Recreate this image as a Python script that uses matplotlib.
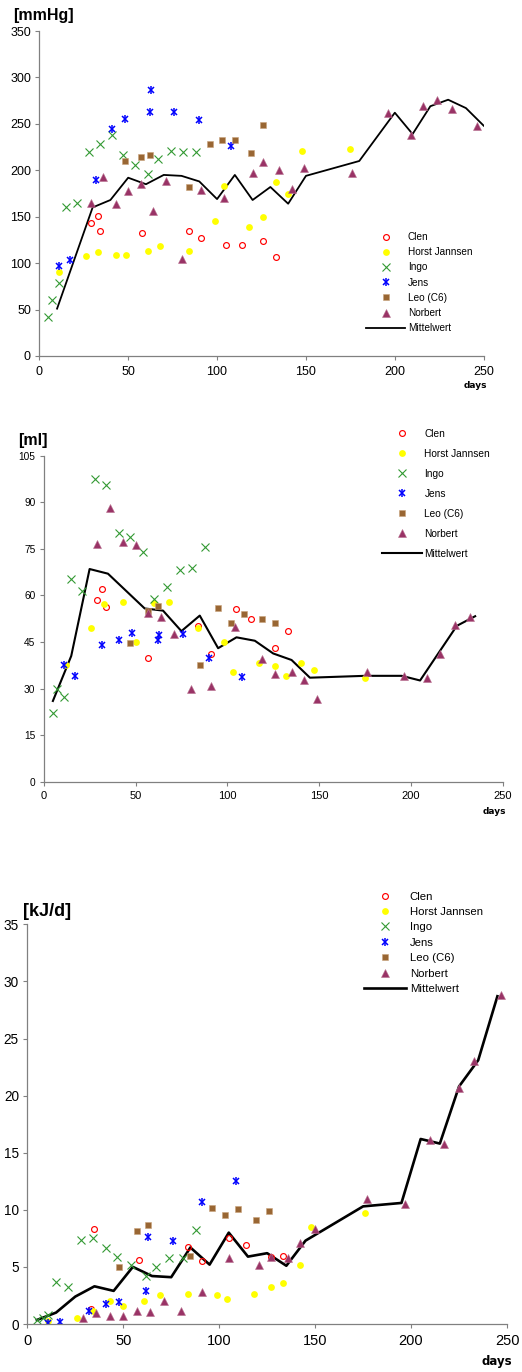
import matplotlib
matplotlib.use('Agg')
import matplotlib.pyplot as plt
from matplotlib import font_manager
from matplotlib.legend_handler import HandlerTuple

# blood pressure [mmHg] per animal, days vs value
mmhg_clen_x = [29, 33, 34, 58, 84, 91, 105, 114, 126, 133]
mmhg_clen_y = [143, 151, 135, 133, 135, 127, 120, 120, 124, 107]
mmhg_horst_x = [11, 26, 33, 43, 49, 61, 68, 84, 99, 104, 118, 126, 133, 140, 148, 175]
mmhg_horst_y = [90, 108, 112, 109, 109, 113, 118, 113, 145, 183, 139, 150, 187, 174, 221, 223]
mmhg_ingo_x = [5, 7, 11, 15, 21, 28, 34, 41, 47, 54, 61, 67, 74, 81, 88]
mmhg_ingo_y = [42, 60, 79, 161, 165, 220, 228, 238, 217, 206, 196, 212, 221, 220, 220]
mmhg_jens_x = [11, 17, 32, 41, 48, 62, 63, 76, 90, 108]
mmhg_jens_y = [97, 103, 190, 244, 255, 263, 287, 263, 254, 226]
mmhg_leo_x = [48, 57, 62, 84, 96, 103, 110, 119, 126]
mmhg_leo_y = [210, 214, 216, 182, 228, 233, 233, 219, 249]
mmhg_norbert_x = [29, 36, 43, 50, 57, 64, 71, 80, 91, 104, 120, 126, 135, 142, 149,
                  176, 196, 209, 216, 224, 232, 246]
mmhg_norbert_y = [165, 193, 164, 178, 185, 156, 188, 105, 179, 170, 197, 209, 200, 180, 203,
                  197, 262, 238, 269, 276, 266, 248]
mmhg_mean_x = [10, 30, 40, 50, 60, 70, 80, 90, 100, 110, 120, 130, 140, 150, 180, 200,
               210, 220, 230, 240, 250]
mmhg_mean_y = [51, 160, 168, 192, 185, 195, 194, 188, 169, 195, 168, 182, 164, 194, 210, 262,
               239, 269, 276, 267, 248]

# volume [ml]
ml_clen_x = [29, 32, 34, 57, 84, 91, 105, 113, 126, 133]
ml_clen_y = [58.4, 62, 56.4, 39.9, 50, 41.2, 55.7, 52.5, 43.2, 48.5]
ml_horst_x = [12, 26, 33, 43, 50, 60, 68, 84, 98, 103, 117, 126, 132, 140, 147, 175]
ml_horst_y = [37.6, 49.5, 57.3, 57.8, 44.9, 57.7, 57.8, 49.6, 45.1, 35.2, 38.1, 37.3, 34.1,
              38.3, 36, 33.3]
ml_ingo_x = [5, 7, 11, 15, 21, 28, 34, 41, 47, 54, 60, 67, 74, 81, 88]
ml_ingo_y = [22, 30, 27.2, 65.2, 61.4, 97.6, 95.6, 80.2, 78.7, 74.1, 58.7, 62.8, 68.3, 68.9, 75.5]
ml_jens_x = [11, 17, 32, 41, 48, 62, 63, 76, 90, 108]
ml_jens_y = [37.6, 34.1, 44, 45.6, 47.9, 45.6, 47.2, 47.6, 40, 33.7]
ml_leo_x = [47, 57, 62, 85, 95, 102, 109, 119, 126]
ml_leo_y = [44.7, 55, 56.6, 37.7, 56, 51.2, 54, 52.3, 51]
ml_norbert_x = [29, 36, 43, 50, 57, 64, 71, 80, 91, 104, 119, 126, 135, 142, 149,
                176, 196, 209, 216, 224, 232]
ml_norbert_y = [76.6, 88, 77.1, 76.2, 54.2, 52.9, 47.5, 29.9, 30.9, 49.9, 39.5, 34.8, 35.4,
                32.6, 26.5, 35.2, 34.1, 33.5, 41, 50.5, 53.1]
ml_mean_x = [5, 15, 25, 35, 55, 65, 75, 85, 95, 105, 115, 125, 135, 145, 175, 195, 205,
             225, 235]
ml_mean_y = [26, 40.5, 68.5, 67, 55.8, 55.1, 48.5, 53.5, 43, 46.5, 45.4, 41.3, 39.2, 33.5,
             34.1, 34.1, 32.6, 50.2, 53.3]

# energy [kJ/d]
kj_clen_x = [33, 35, 58, 84, 91, 105, 114, 127, 133]
kj_clen_y = [1.3, 8.3, 5.6, 6.7, 5.5, 7.5, 6.95, 5.9, 5.95]
kj_horst_x = [11, 26, 34, 43, 50, 61, 69, 84, 99, 104, 118, 127, 133, 142, 148, 176]
kj_horst_y = [0.26, 0.55, 1.1, 2.04, 1.6, 2.04, 2.5, 2.63, 2.5, 2.16, 2.63, 3.27, 3.62,
              5.2, 8.47, 9.7]
kj_ingo_x = [5, 8, 11, 15, 21, 28, 34, 41, 47, 54, 62, 67, 74, 81, 88]
kj_ingo_y = [0.35, 0.5, 0.8, 3.65, 3.27, 7.36, 7.56, 6.68, 5.9, 5.2, 4.2, 5.0, 5.8, 5.8, 8.26]
kj_jens_x = [11, 17, 32, 41, 48, 62, 63, 76, 91, 109]
kj_jens_y = [0.1, 0.17, 1.14, 1.75, 1.9, 2.9, 7.6, 7.27, 10.7, 12.5]
kj_leo_x = [48, 57, 63, 85, 96, 103, 110, 119, 126]
kj_leo_y = [4.96, 8.1, 8.64, 5.95, 10.2, 9.55, 10.1, 9.1, 9.9]
kj_norbert_x = [29, 36, 43, 50, 57, 64, 71, 80, 91, 105, 121, 127, 136, 142, 150,
                177, 197, 210, 217, 225, 233, 247]
kj_norbert_y = [0.5, 0.93, 0.73, 0.73, 1.17, 1.02, 2.0, 1.14, 2.83, 5.8, 5.2, 5.9, 5.8, 7.1,
                8.3, 10.95, 10.5, 16.1, 15.76, 20.7, 23.0, 28.8]
kj_mean_x = [5, 15, 25, 35, 45, 55, 65, 75, 85, 95, 105, 115, 125, 135, 145, 175, 195,
             205, 215, 225, 235, 245]
kj_mean_y = [0.35, 1.0, 2.4, 3.3, 2.9, 5.0, 4.2, 4.1, 6.7, 5.2, 8.0, 5.9, 6.2, 5.1, 7.3,
             10.3, 10.6, 16.2, 15.8, 20.8, 23.1, 28.7]

names = ['Clen', 'Horst Jannsen', 'Ingo', 'Jens', 'Leo (C6)', 'Norbert']
mean_label = 'Mittelwert'
day_ticks = [0, 50, 100, 150, 200, 250]

plt.rcParams['font.family'] = ['Liberation Sans', 'DejaVu Sans']

installed = {f.name for f in font_manager.fontManager.ttflist}
narrow = 'Liberation Sans Narrow' if 'Liberation Sans Narrow' in installed else 'Liberation Sans'

W, H = 522, 1372
fig = plt.figure(figsize=(W / 100, H / 100), dpi=100)


def px_axes(left, right, top, bottom):
    return fig.add_axes([left / W, 1 - bottom / H, (right - left) / W, (bottom - top) / H])


def plot_person(ax, name, xs, ys):
    # excel-like marker for each animal
    if name == 'Clen':
        return ax.plot(xs, ys, ls='none', marker='o', ms=4.2, mfc='none', mec='#ff0000', mew=0.85)[0]
    if name == 'Horst Jannsen':
        return ax.plot(xs, ys, ls='none', marker='o', ms=4.9, mfc='#ffff00', mec='#ffff00', mew=0)[0]
    if name == 'Ingo':
        return ax.plot(xs, ys, ls='none', marker='x', ms=5.2, mec='#339933', mew=0.8)[0]
    if name == 'Jens':
        a = ax.plot(xs, ys, ls='none', marker='x', ms=5.0, mec='#0000ff', mew=1.1)[0]
        b = ax.plot(xs, ys, ls='none', marker='|', ms=5.4, mec='#0000ff', mew=1.1)[0]
        return (a, b)
    if name == 'Leo (C6)':
        return ax.plot(xs, ys, ls='none', marker='s', ms=4.7, mfc='#996633', mec='#c9a27c', mew=0.4)[0]
    return ax.plot(xs, ys, ls='none', marker='^', ms=5.6, mfc='#993366', mec='#b9708f', mew=0.4)[0]


def draw_panel(ax, data, mean_x, mean_y, ymax, ystep, line_w, tick_fs, xtick_fs, xfont):
    line = ax.plot(mean_x, mean_y, color='black', lw=line_w, zorder=1.5)[0]
    handles = []
    for name, xs, ys in zip(names, data[0::2], data[1::2]):
        handles.append(plot_person(ax, name, xs, ys))
    handles.append(line)

    ax.set_xlim(0, 250)
    ax.set_ylim(0, ymax)
    ax.set_xticks(day_ticks)
    ax.set_yticks(range(0, ymax + 1, ystep))
    for s in ['top', 'right']:
        ax.spines[s].set_visible(False)
    for s in ['left', 'bottom']:
        ax.spines[s].set_color('#808080')
        ax.spines[s].set_linewidth(0.9)
    ax.tick_params(axis='both', direction='out', length=3, width=0.8, color='#808080')
    ax.tick_params(axis='y', labelsize=tick_fs, pad=3)
    ax.tick_params(axis='x', labelsize=xtick_fs, pad=4)
    for lab in ax.get_xticklabels():
        lab.set_family(xfont)
    ax.patch.set_alpha(0)
    return handles


def add_legend(ax, handles, left, top, fs, hlen, hpad, lspace):
    ax.legend(handles, names + [mean_label], loc='upper left',
              bbox_to_anchor=(left / W, 1 - top / H), bbox_transform=fig.transFigure,
              frameon=False, borderpad=0, borderaxespad=0, numpoints=1,
              handlelength=hlen, handletextpad=hpad, labelspacing=lspace,
              prop={'family': 'Liberation Sans', 'size': fs},
              handler_map={tuple: HandlerTuple(ndivide=1)})


# top panel: blood pressure
ax1 = px_axes(39.3, 483.7, 31, 356)
h1 = draw_panel(ax1, [mmhg_clen_x, mmhg_clen_y, mmhg_horst_x, mmhg_horst_y,
                      mmhg_ingo_x, mmhg_ingo_y, mmhg_jens_x, mmhg_jens_y,
                      mmhg_leo_x, mmhg_leo_y, mmhg_norbert_x, mmhg_norbert_y],
                mmhg_mean_x, mmhg_mean_y, 350, 50, 1.3, 9, 9, 'Liberation Sans')
add_legend(ax1, h1, 366, 232, 7.2, 3.9, 0.3, 0.52)
fig.text(13 / W, 1 - 15.5 / H, '[mmHg]', fontsize=11.5, fontweight='bold', va='center', ha='left')
fig.text(487 / W, 1 - 386 / H, 'days', fontsize=6.5, fontweight='bold', family='DejaVu Sans',
         va='center', ha='right')

# middle panel: volume
ax2 = px_axes(43.7, 502.7, 455.7, 781.7)
h2 = draw_panel(ax2, [ml_clen_x, ml_clen_y, ml_horst_x, ml_horst_y,
                      ml_ingo_x, ml_ingo_y, ml_jens_x, ml_jens_y,
                      ml_leo_x, ml_leo_y, ml_norbert_x, ml_norbert_y],
                ml_mean_x, ml_mean_y, 105, 15, 1.5, 7.3, 8, 'Liberation Sans')
add_legend(ax2, h2, 381.7, 429, 7.3, 3.95, 0.26, 0.98)
fig.text(18 / W, 1 - 440.5 / H, '[ml]', fontsize=11.5, fontweight='bold', va='center', ha='left')
fig.text(506 / W, 1 - 812 / H, 'days', fontsize=6.5, fontweight='bold', family='DejaVu Sans',
         va='center', ha='right')

# bottom panel: energy
ax3 = px_axes(27.3, 507, 924.3, 1324)
h3 = draw_panel(ax3, [kj_clen_x, kj_clen_y, kj_horst_x, kj_horst_y,
                      kj_ingo_x, kj_ingo_y, kj_jens_x, kj_jens_y,
                      kj_leo_x, kj_leo_y, kj_norbert_x, kj_norbert_y],
                kj_mean_x, kj_mean_y, 35, 5, 1.9, 9.8, 10.5, narrow)
add_legend(ax3, h3, 364, 891.5, 8.2, 3.65, 0.36, 0.48)
fig.text(23 / W, 1 - 911.5 / H, '[kJ/d]', fontsize=13, fontweight='bold', va='center', ha='left')
fig.text(512 / W, 1 - 1362 / H, 'days', fontsize=8.5, fontweight='bold', family='DejaVu Sans',
         va='center', ha='right')

fig.savefig('out.png', dpi=100)
